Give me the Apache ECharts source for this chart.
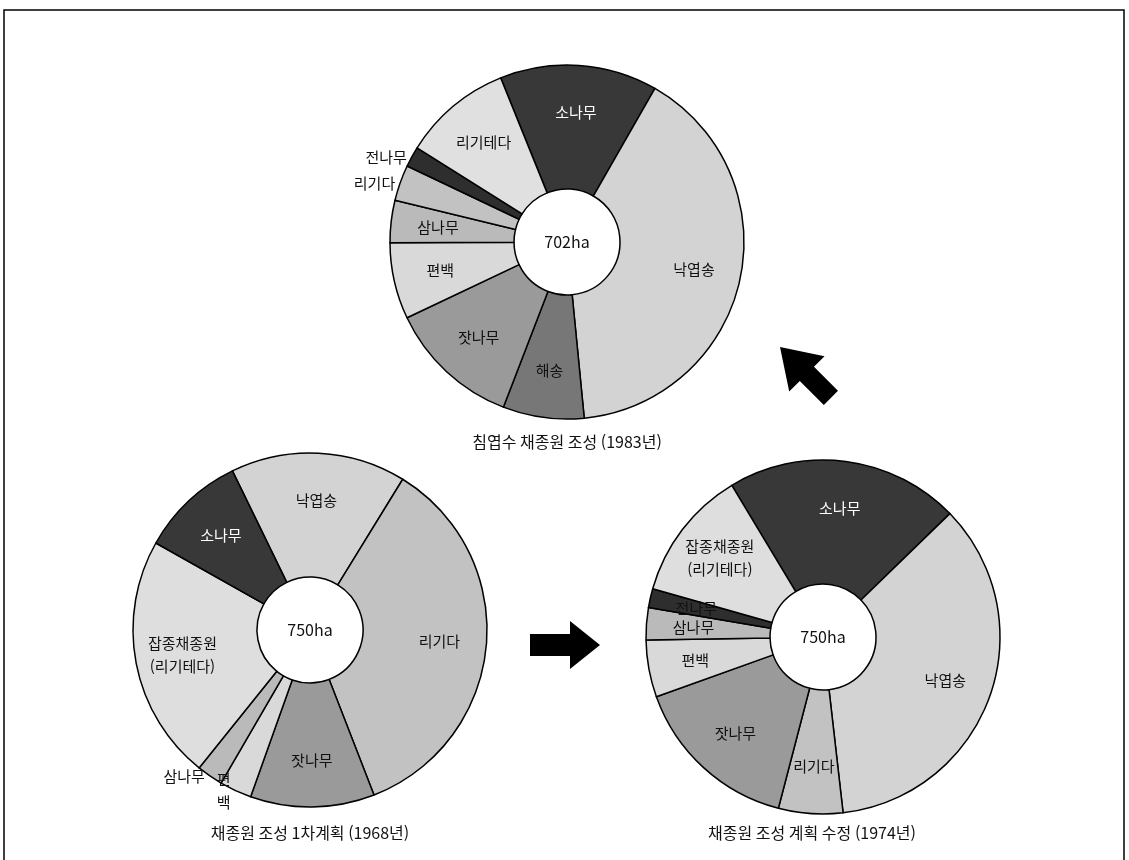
<!DOCTYPE html>
<html lang="ko">
<head>
    <meta charset="UTF-8">
    <title>채종원 조성</title>
    <script src="https://cdn.jsdelivr.net/npm/echarts@6/dist/echarts.min.js"></script>
    <style>
        body { margin: 0; background: #fff; }
        #main { width: 1129px; height: 860px; }
    </style>
</head>
<body>
<div id="main"></div>
<script>
    // 침엽수 채종원 조성 (1983년), 702ha
    const names1983 = ['소나무', '낙엽송', '해송', '잣나무', '편백', '삼나무', '리기다', '전나무', '리기테다'];
    const values1983 = [101, 282, 52, 85, 49, 27, 23, 13, 70];

    // 채종원 조성 1차계획 (1968년), 750ha
    const names1968 = ['낙엽송', '리기다', '잣나무', '편백', '삼나무', '잡종채종원(리기테다)', '소나무'];
    const values1968 = [120, 265, 85, 22, 18, 168, 72];

    // 채종원 조성 계획 수정 (1974년), 750ha
    const names1974 = ['소나무', '낙엽송', '리기다', '잣나무', '편백', '삼나무', '전나무', '잡종채종원(리기테다)'];
    const values1974 = [160, 266, 44, 116, 39, 22, 13, 90];

    const totals = ['702ha', '750ha', '750ha'];
    const captions = ['침엽수 채종원 조성 (1983년)', '채종원 조성 1차계획 (1968년)', '채종원 조성 계획 수정 (1974년)'];

    const font = '"Noto Sans CJK KR", sans-serif';

    // 무늬 대신 회색 농도
    const fills = {
        '소나무': '#383838',
        '낙엽송': '#d3d3d3',
        '해송': '#777777',
        '잣나무': '#9a9a9a',
        '편백': '#d9d9d9',
        '삼나무': '#bababa',
        '리기다': '#c2c2c2',
        '전나무': '#2e2e2e',
        '리기테다': '#e0e0e0',
        '잡종채종원(리기테다)': '#dedede'
    };
    const darkOnes = ['소나무'];

    function makeData(names, values, outside, override) {
        return names.map((n, i) => {
            const item = {
                name: n,
                value: values[i],
                itemStyle: { color: fills[n] },
                label: { color: darkOnes.includes(n) ? '#fff' : '#111' }
            };
            if (outside.includes(n)) {
                item.label.position = 'outside';
                item.labelLine = { show: false, length: 0, length2: 0 };
            }
            if (override && override[n]) {
                item.label.formatter = override[n];
            }
            return item;
        });
    }

    function pieSeries(center, startAngle, data, outside) {
        const inner = 53, outer = 177;
        return {
            type: 'pie',
            center: center,
            radius: [inner, outer],
            startAngle: startAngle,
            clockwise: true,
            avoidLabelOverlap: false,
            silent: true,
            itemStyle: { borderColor: '#000', borderWidth: 1.5 },
            label: {
                show: true,
                position: 'inside',
                fontFamily: font,
                fontSize: 15,
                lineHeight: 23,
                formatter: p => p.name.replace('(', '\n(')
            },
            labelLine: { show: false },
            // 안쪽 글자를 바깥쪽으로 조금 밀기
            labelLayout: function (params) {
                const d = data[params.dataIndex];
                if (outside.includes(d.name)) return {};
                const r = params.labelRect;
                const lx = r.x + r.width / 2 - center[0];
                const ly = r.y + r.height / 2 - center[1];
                const dist = Math.sqrt(lx * lx + ly * ly) || 1;
                const target = inner + 0.62 * (outer - inner);
                const k = target / dist - 1;
                return { dx: lx * k, dy: ly * k };
            },
            data: data
        };
    }

    function arrow(tipX, tipY, angleDeg, len, headL, headW, shaftW) {
        const a = angleDeg * Math.PI / 180;
        const ux = Math.cos(a), uy = Math.sin(a);
        const nx = -uy, ny = ux;
        const p = (back, side) => [tipX - ux * back + nx * side, tipY - uy * back + ny * side];
        return {
            type: 'polygon',
            shape: {
                points: [
                    [tipX, tipY],
                    p(headL, headW / 2), p(headL, shaftW / 2), p(len, shaftW / 2),
                    p(len, -shaftW / 2), p(headL, -shaftW / 2), p(headL, -headW / 2)
                ]
            },
            style: { fill: '#000' }
        };
    }

    const centers = [[567, 242], [310, 630], [823, 637]];
    const out1983 = ['리기다', '전나무'];
    const out1968 = ['삼나무', '편백'];
    const out1974 = [];
    const data1983 = makeData(names1983, values1983, out1983);
    const data1968 = makeData(names1968, values1968, out1968, { '편백': '편\n백' });
    const data1974 = makeData(names1974, values1974, out1974);

    const textEl = (x, y, text, size) => ({
        type: 'text',
        x: x, y: y,
        style: {
            text: text, fontFamily: font, fontSize: size, fill: '#111',
            textAlign: 'center', textVerticalAlign: 'middle'
        }
    });

    const option = {
        backgroundColor: '#fff',
        animation: false,
        series: [
            pieSeries(centers[0], 112, data1983, out1983),
            pieSeries(centers[1], 116, data1968, out1968),
            pieSeries(centers[2], 121, data1974, out1974)
        ],
        graphic: [
            {
                type: 'rect',
                shape: { x: 4, y: 10, width: 1120, height: 870 },
                style: { fill: 'none', stroke: '#000', lineWidth: 1.5 }
            },
            textEl(centers[0][0], centers[0][1], totals[0], 16),
            textEl(centers[1][0], centers[1][1], totals[1], 16),
            textEl(centers[2][0], centers[2][1], totals[2], 16),
            textEl(567, 442, captions[0], 16),
            textEl(310, 833, captions[1], 16),
            textEl(812, 833, captions[2], 16),
            arrow(780, 347, 225, 72, 38, 50, 20),
            arrow(600, 645, 0, 70, 30, 48, 22)
        ]
    };

    const myChart = echarts.init(document.getElementById('main'));
    myChart.setOption(option);
</script>
</body>
</html>
